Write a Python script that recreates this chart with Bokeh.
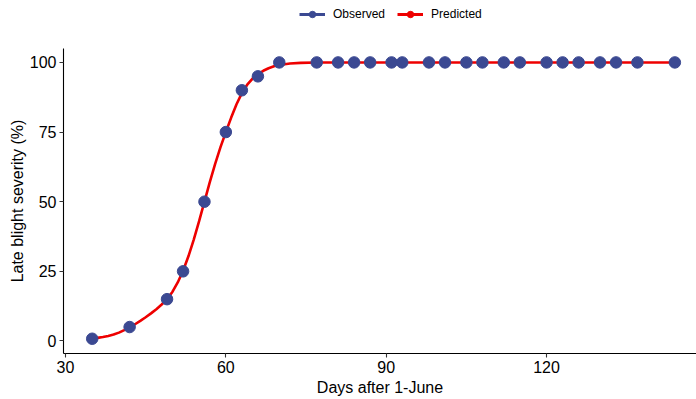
from bokeh.plotting import figure
from bokeh.layouts import column
from bokeh.models import ColumnDataSource, Legend, LegendItem, Range1d, FixedTicker
from bokeh.embed import file_html
from bokeh.resources import INLINE

# Observed data
obs_days = [35, 42, 49, 52, 56, 60, 63, 66, 70, 77, 81, 84, 87, 91, 93, 98, 101,
            105, 108, 112, 115, 120, 123, 126, 130, 133, 137, 144]
obs_sev = [0.8, 5, 15, 25, 50, 75, 90, 95, 100, 100, 100, 100, 100, 100, 100, 100, 100,
           100, 100, 100, 100, 100, 100, 100, 100, 100, 100, 100]

# Predicted curve
pred_days = [35, 36, 37, 38, 39, 40, 41, 42, 43, 44, 45, 46, 47, 48, 49, 50, 51, 52, 53,
             54, 55, 56, 57, 58, 59, 60, 61, 62, 63, 64, 65, 66, 67, 68, 69, 70, 72, 74,
             77, 90, 110, 130, 144]
pred_sev = [0.8, 1.1, 1.4, 1.8, 2.3, 3.0, 3.9, 5.0, 6.0, 7.2, 8.5, 9.9, 11.4, 13.1, 15.1,
            17.6, 21.0, 25.2, 30.4, 36.4, 43.0, 50.0, 57.0, 63.6, 69.6, 75.0, 80.2, 85.0,
            89.0, 92.0, 94.2, 95.8, 97.0, 97.9, 98.6, 99.1, 99.6, 99.85, 100, 100, 100, 100, 100]

x_ticks = [30, 60, 90, 120]
y_ticks = [0, 25, 50, 75, 100]
series_names = ["Observed", "Predicted"]

BLUE = "#3B4992"
RED = "#EE0000"
FONT = "Liberation Sans"

# ---- legend strip on top ----
lg = figure(width=696, height=48, output_backend="svg", toolbar_location=None,
            x_range=Range1d(0, 1), y_range=Range1d(0, 1),
            x_axis_type=None, y_axis_type=None,
            min_border_left=0, min_border_right=0, min_border_top=0, min_border_bottom=0)
lg.outline_line_color = None
lg.grid.visible = False
off = ColumnDataSource(dict(x=[-10, -9], y=[-10, -10]))
key_items = []
for name, col in zip(series_names, [BLUE, RED]):
    l = lg.line("x", "y", source=off, line_color=col, line_width=3)
    s = lg.scatter("x", "y", source=off, size=10.5, fill_color=col, line_color=col)
    key_items.append(LegendItem(label=name, renderers=[l, s]))
legend = Legend(items=key_items, orientation="horizontal", location=(236, 26))
legend.label_text_font = FONT
legend.label_text_font_size = "12px"
legend.label_text_color = "#000000"
legend.glyph_width = 26
legend.glyph_height = 16
legend.spacing = 12
legend.label_standoff = 8
legend.padding = 0
legend.margin = 0
legend.border_line_color = None
legend.background_fill_alpha = 0
lg.add_layout(legend, "center")

# ---- main plot ----
p = figure(width=696, height=351, output_backend="svg", toolbar_location=None,
           x_range=Range1d(29.63, 148.05), y_range=Range1d(-4.5, 105),
           min_border_left=63, min_border_right=0, min_border_top=0, min_border_bottom=46)
p.outline_line_color = None
p.grid.visible = False

pred_src = ColumnDataSource(dict(x=pred_days, y=pred_sev))
obs_src = ColumnDataSource(dict(x=obs_days, y=obs_sev))

p.line("x", "y", source=pred_src, line_color=RED, line_width=2.6)
p.scatter("x", "y", source=obs_src, size=11.5, fill_color=BLUE, line_color=BLUE)

for ax in (p.xaxis[0], p.yaxis[0]):
    ax.axis_line_color = "#000000"
    ax.axis_line_width = 1.1
    ax.major_tick_line_color = "#333333"
    ax.major_tick_line_width = 1.1
    ax.major_tick_in = 0
    ax.major_tick_out = 4
    ax.minor_tick_line_color = None
    ax.major_label_text_font = FONT
    ax.major_label_text_font_size = "16px"
    ax.major_label_text_color = "#000000"
    ax.axis_label_text_font = FONT
    ax.axis_label_text_font_size = "16px"
    ax.axis_label_text_font_style = "normal"
    ax.axis_label_text_color = "#000000"

p.xaxis[0].ticker = FixedTicker(ticks=x_ticks)
p.yaxis[0].ticker = FixedTicker(ticks=y_ticks)
p.xaxis[0].axis_label = "Days after 1-June"
p.yaxis[0].axis_label = "Late blight severity (%)"
p.xaxis[0].major_label_standoff = 3
p.yaxis[0].major_label_standoff = 3
p.xaxis[0].axis_label_standoff = 3
p.yaxis[0].axis_label_standoff = 1

open("out.html", "w").write(file_html(column(lg, p, spacing=0), INLINE))
